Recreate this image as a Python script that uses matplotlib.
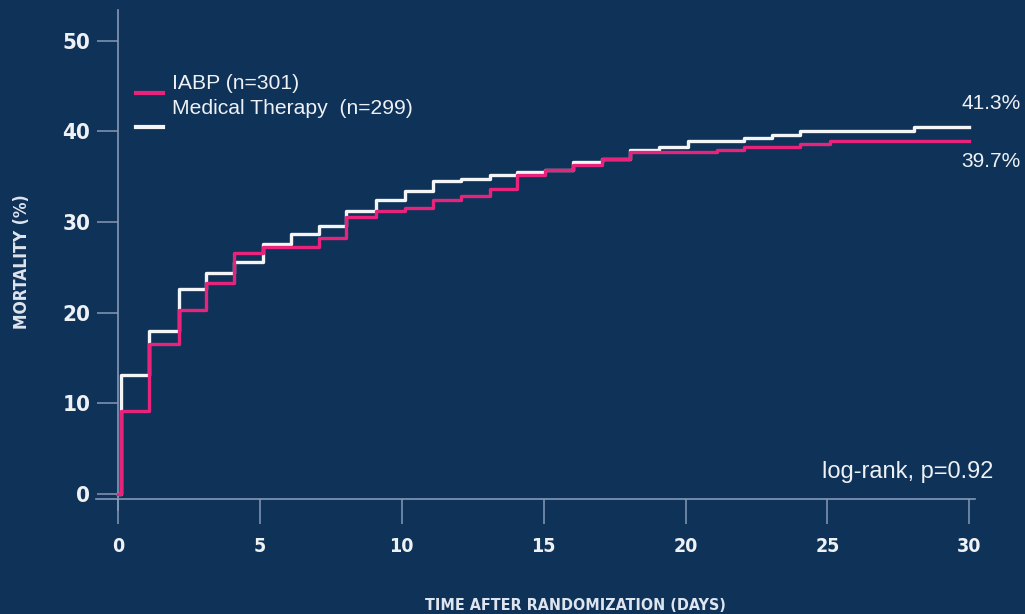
import matplotlib
matplotlib.use("Agg")
import matplotlib.pyplot as plt
from matplotlib.lines import Line2D

# ---- data ----
mt_days = [0, 0.1, 1.1, 2.15, 3.1, 4.1, 5.1, 6.1, 7.1, 8.05, 9.1, 10.1, 11.1, 12.1,
           13.1, 14.05, 15.05, 16.05, 17.05, 18.05, 19.05, 20.1, 22.05, 23.05, 24.05,
           28.05, 30]
mt_mort = [0, 13.1, 18.0, 22.6, 24.4, 25.6, 27.6, 28.7, 29.6, 31.2, 32.4, 33.4, 34.5,
           34.8, 35.2, 35.5, 35.8, 36.6, 37.0, 38.0, 38.3, 38.9, 39.3, 39.6, 40.0,
           40.5, 40.5]

iabp_days = [0, 0.1, 1.1, 2.15, 3.1, 4.1, 5.1, 7.1, 8.05, 9.1, 10.1, 11.1, 12.1, 13.1,
             14.05, 15.05, 16.05, 17.05, 18.05, 21.1, 22.05, 24.05, 25.1, 30]
iabp_mort = [0, 9.1, 16.6, 20.3, 23.3, 26.6, 27.2, 28.2, 30.6, 31.2, 31.6, 32.4, 32.9,
             33.7, 35.2, 35.8, 36.3, 37.0, 37.7, 38.0, 38.3, 38.6, 39.0, 39.0]

x_ticks = [0, 5, 10, 15, 20, 25, 30]
y_ticks = [0, 10, 20, 30, 40, 50]
legend_labels = ["IABP (n=301)", "Medical Therapy  (n=299)"]
final_labels = ["41.3%", "39.7%"]
pvalue_text = "log-rank, p=0.92"

# ---- style ----
BG = "#0f3258"
AXC = "#8699b5"
PINK = "#e8237c"
WHITE = "#f4f5f7"
TXT = "#eef1f5"

W, H = 1025, 614
fig = plt.figure(figsize=(W / 100, H / 100), dpi=100, facecolor=BG)
ax = fig.add_axes([96 / W, 1 - 510 / H, (975 - 96) / W, (510 - 10) / H])
ax.set_facecolor(BG)

ax.set_xlim(-0.775, 30.2)
ax.set_ylim(-1.77, 53.4)

ax.step(mt_days, mt_mort, where="post", color=WHITE, lw=2.4, zorder=3)
ax.step(iabp_days, iabp_mort, where="post", color=PINK, lw=2.4, zorder=4)

for s in ["top", "right"]:
    ax.spines[s].set_visible(False)
ax.spines["left"].set_position(("data", 0))
ax.spines["bottom"].set_position(("data", -0.6))
for s in ["left", "bottom"]:
    ax.spines[s].set_color(AXC)
    ax.spines[s].set_linewidth(1.2)

ax.set_xticks(x_ticks)
ax.set_yticks(y_ticks)
ax.set_xticklabels([str(t) for t in x_ticks])
ax.set_yticklabels([str(t) for t in y_ticks])
ax.tick_params(axis="x", direction="out", length=18, width=1.1, color=AXC, pad=9,
               labelcolor=TXT, labelsize=14)
ax.tick_params(axis="y", direction="out", length=15, width=1.1, color=AXC, pad=5,
               labelcolor=TXT, labelsize=16)
for lab in ax.get_xticklabels() + ax.get_yticklabels():
    lab.set_fontweight("bold")
    lab.set_fontstretch("condensed")

# axis titles
fig.text(575 / W, 1 - 605 / H, "TIME AFTER RANDOMIZATION (DAYS)", ha="center",
         va="center", color="#dfe5ee", fontsize=11.5, fontweight="bold",
         fontstretch="condensed")
fig.text(22 / W, 1 - 262 / H, "MORTALITY (%)", ha="center", va="center",
         rotation=90, color="#dfe5ee", fontsize=12.5, fontweight="bold",
         fontstretch="condensed")

# legend
SANS = ["Liberation Sans", "DejaVu Sans"]
fig.add_artist(Line2D([136 / W, 163 / W], [1 - 93 / H, 1 - 93 / H], color=PINK, lw=3))
fig.add_artist(Line2D([136 / W, 163 / W], [1 - 127 / H, 1 - 127 / H], color=WHITE, lw=3))
fig.text(172 / W, 1 - 89.3 / H, legend_labels[0], ha="left", va="baseline",
         color=TXT, fontsize=15.2, family=SANS)
fig.text(172 / W, 1 - 114.3 / H, legend_labels[1], ha="left", va="baseline",
         color=TXT, fontsize=15.2, family=SANS)

# end labels
fig.text(1021 / W, 1 - 109.3 / H, final_labels[0], ha="right", va="baseline",
         color=TXT, fontsize=15, family=SANS)
fig.text(1021 / W, 1 - 167.3 / H, final_labels[1], ha="right", va="baseline",
         color=TXT, fontsize=15, family=SANS)
fig.text(993 / W, 1 - 478 / H, pvalue_text, ha="right", va="baseline",
         color=TXT, fontsize=17, family=SANS)

fig.savefig("out.png", dpi=100, facecolor=BG)
